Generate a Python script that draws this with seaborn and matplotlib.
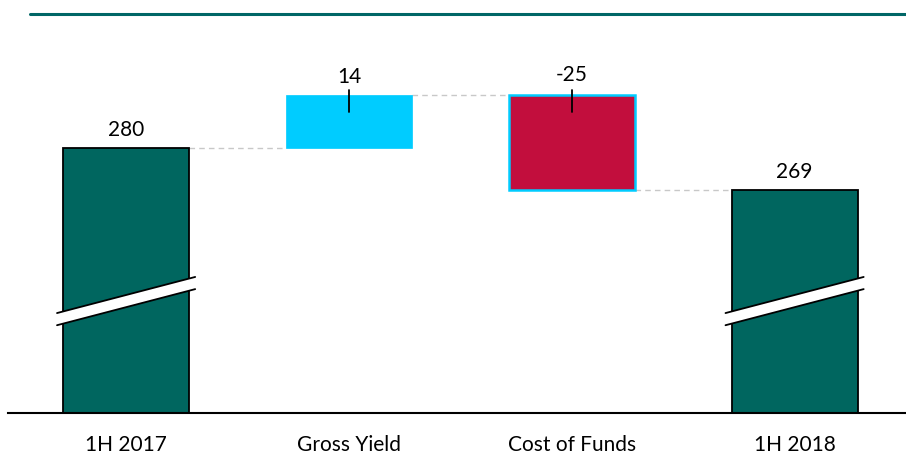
import numpy as np
import matplotlib
matplotlib.use("Agg")
import matplotlib.pyplot as plt
from matplotlib.lines import Line2D
import seaborn as sns

# --- data ---
categories = ["1H 2017", "Gross Yield", "Cost of Funds", "1H 2018"]
values = [280, 14, -25, 269]
kinds = ["total", "delta", "delta", "total"]
labels = ["280", "14", "-25", "269"]

teal = "#00665F"
cyan = "#00CCFF"
red = "#C20E3D"
bar_colors = [teal, cyan, red, teal]

sns.set_theme(style="white")
plt.rcParams["font.family"] = ["Lato", "DejaVu Sans"]
fs = 15

# waterfall bottoms / tops
ymin, ymax = 210.3, 315.3
bottoms, tops = [], []
running = 0
for v, k in zip(values, kinds):
    if k == "total":
        bottoms.append(ymin)
        tops.append(v)
        running = v
    else:
        lo, hi = sorted([running, running + v])
        bottoms.append(lo)
        tops.append(hi)
        running = running + v

fig = plt.figure(figsize=(9.06, 4.55), dpi=100)
ax = fig.add_axes([8 / 906, 1 - 413 / 455, 1 - 8 / 906, (413 - 14) / 455])

width = 0.565
sns.barplot(x=categories, y=[t - b for t, b in zip(tops, bottoms)],
            palette=bar_colors, hue=categories, legend=False,
            width=width, saturation=1, ax=ax)

for i, p in enumerate(ax.patches):
    p.set_y(bottoms[i])
    p.set_height(tops[i] - bottoms[i])
    if kinds[i] == "total":
        p.set_edgecolor("black")
        p.set_linewidth(1.3)
    elif values[i] < 0:
        p.set_edgecolor(cyan)
        p.set_linewidth(1.8)
    else:
        p.set_edgecolor(cyan)
        p.set_linewidth(0.5)
    p.set_zorder(2)

# connectors
for i in range(len(values) - 1):
    lvl = tops[i] if (kinds[i] == "total" or values[i] > 0) else bottoms[i]
    ax.plot([i + width / 2, i + 1 - width / 2], [lvl, lvl], color="#C8C8C8",
            lw=1, ls=(0, (4, 3)), zorder=1)

# labels
for i, (lab, k) in enumerate(zip(labels, kinds)):
    if k == "total":
        ax.text(i, tops[i] + 4.7, lab, ha="center", va="center", fontsize=fs, color="black")
    else:
        top_lvl = tops[i]
        ax.text(i, top_lvl + (4.6 if values[i] > 0 else 5.2), lab,
                ha="center", va="center", fontsize=fs, color="black")
        ax.plot([i, i], [top_lvl + 1.3, top_lvl - 4.4], color="black", lw=1.3, zorder=3)

# axis break marks on total bars
for i, k in enumerate(kinds):
    if k != "total":
        continue
    xs = np.array([i - 0.31, i + 0.31])
    yc = np.array([235.0, 244.5])
    half = 1.6
    ax.fill([xs[0], xs[1], xs[1], xs[0]],
            [yc[0] + half, yc[1] + half, yc[1] - half, yc[0] - half],
            color="white", zorder=4, lw=0)
    ax.plot(xs, yc + half, color="black", lw=1.3, zorder=5)
    ax.plot(xs, yc - half, color="black", lw=1.3, zorder=5)

ax.set_xlim(-0.53, 3.5)
ax.set_ylim(ymin, ymax)
ax.set_yticks([])
ax.set_xlabel("")
ax.set_ylabel("")
for s in ["top", "right", "left"]:
    ax.spines[s].set_visible(False)
ax.spines["bottom"].set_color("black")
ax.spines["bottom"].set_linewidth(1.5)
ax.tick_params(axis="x", length=0, pad=16, labelsize=fs, labelcolor="black")

# header rule
fig.add_artist(Line2D([30 / 906, 1], [1 - 14 / 455, 1 - 14 / 455],
                      color="#006666", lw=2.2, transform=fig.transFigure))

fig.savefig("out.png", dpi=100)
